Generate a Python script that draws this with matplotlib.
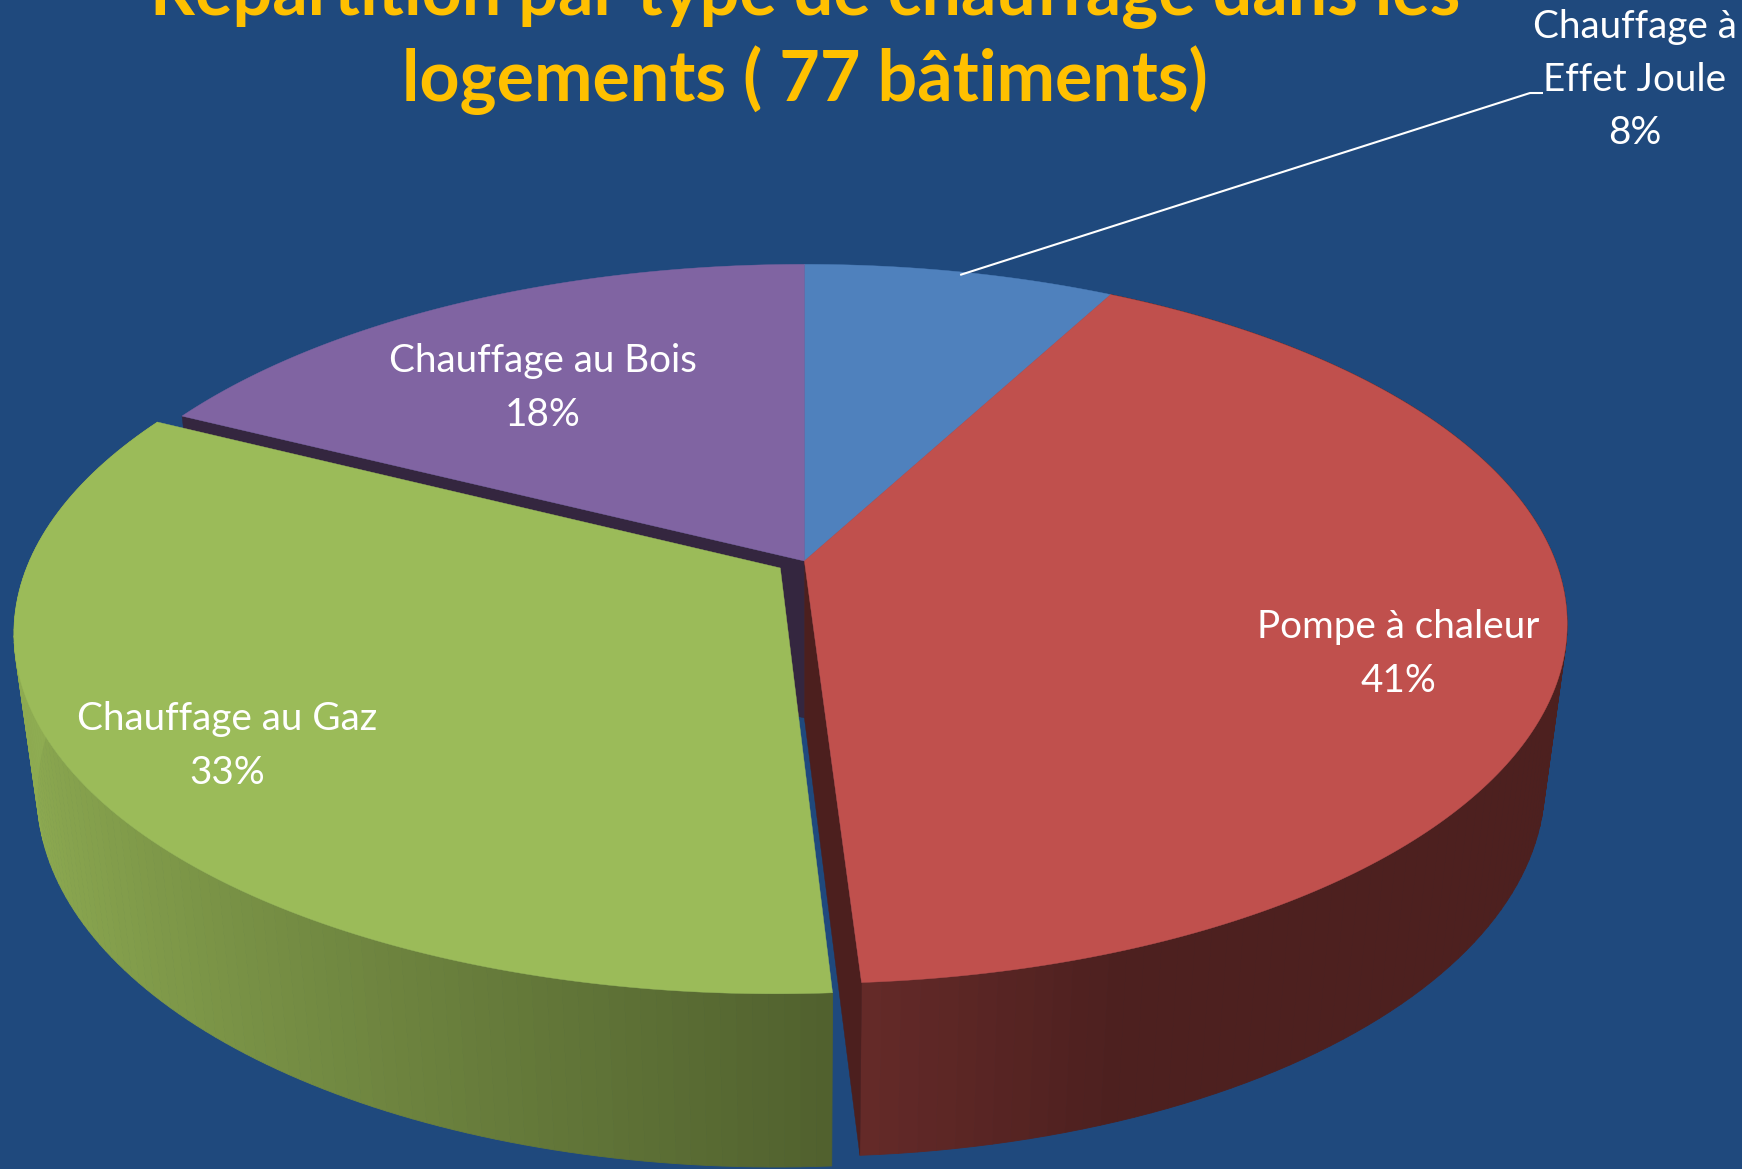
import numpy as np
import matplotlib
matplotlib.use("Agg")
import matplotlib.pyplot as plt
from matplotlib.patches import Polygon

# --- data ---
categories = ["Chauffage à\nEffet Joule", "Pompe à chaleur", "Chauffage au Gaz", "Chauffage au Bois"]
values = [7.8, 41.2, 33.4, 17.6]   # slice sizes; labels show them rounded
title_lines = "Répartition par type de chauffage dans les\nlogements ( 77 bâtiments)"

# --- style / layout ---
BG = "#1F497D"
colors = ["#4F81BD", "#C0504D", "#9BBB59", "#8064A2"]
offsets = [(0, 0), (0, 0), (-0.032, -0.02), (0, 0)]
label_pos = [(1635, 80), (1398, 654), (227, 746), (543, 388)]
CX = 804.4
PERSP = 0.175
TOP = dict(R=751.0, y0=561.0, a=-250.4)
BOT = dict(R=729.0, y0=718.0, a=-236.0)

plt.rcParams["font.family"] = ["Lato", "DejaVu Sans"]
fig = plt.figure(figsize=(17.42, 11.69), dpi=100, facecolor=BG)
ax = fig.add_axes([0, 0, 1, 1])
ax.set_xlim(0, 1742)
ax.set_ylim(1169, 0)
ax.axis("off")


def project(u, v, lvl):
    d = 1 + PERSP * v
    return CX + lvl["R"] * u / d, (lvl["y0"] + lvl["a"] * v) / d


def arc(t0, t1, off, lvl, n=120):
    t = np.linspace(t0, t1, n)
    return project(np.sin(t) + off[0], np.cos(t) + off[1], lvl)


def shade(base, f):
    rgb = np.array(matplotlib.colors.to_rgb(base))
    return tuple(np.clip(rgb * f, 0, 1))


fr = np.cumsum([0] + values) / sum(values) * 2 * np.pi
wedges = [(fr[i], fr[i + 1], off) for i, off in enumerate(offsets)]


def side(i, factor):
    t0, t1, off = wedges[i]
    tx, ty = arc(t0, t1, off, TOP)
    bx, by = arc(t0, t1, off, BOT)
    grid = np.linspace(t0, t1, 120)
    mids = (grid[:-1] + grid[1:]) / 2
    for k in range(len(mids)):
        col = shade(colors[i], factor(np.sin(mids[k])))
        ax.add_patch(Polygon([(tx[k], ty[k]), (tx[k + 1], ty[k + 1]), (bx[k + 1], by[k + 1]), (bx[k], by[k])],
                             closed=True, fc=col, ec=col, lw=0.6))


def cut(i, t, col):
    _, _, off = wedges[i]
    u, v = np.sin(t) + off[0], np.cos(t) + off[1]
    pts = [project(off[0], off[1], TOP), project(u, v, TOP), project(u, v, BOT), project(off[0], off[1], BOT)]
    ax.add_patch(Polygon(pts, closed=True, fc=col, ec=col, lw=0.3))


def top(i):
    t0, t1, off = wedges[i]
    x, y = arc(t0, t1, off, TOP, 200)
    ax.add_patch(Polygon(np.vstack([project(off[0], off[1], TOP), np.column_stack([x, y])]),
                         closed=True, fc=colors[i], ec=colors[i], lw=0.3))


# Walls, back to front, then the top faces
side(1, lambda u: 0.40 + 0.13 * np.clip((0.35 - u) / 0.3, 0, 1))
cut(3, fr[3], "#34263F")
cut(1, fr[2], "#4C1F1E")
side(2, lambda u: 0.54 + 0.38 * (-u))
top(0); top(3); top(1); top(2)

# Labels
for cat, val, (x, y) in zip(categories, values, label_pos):
    ax.text(x, y, f"{cat}\n{round(val)}%", color="white", fontsize=27.8, ha="center", va="center",
            linespacing=1.6, multialignment="center")

# Leader line from the small slice to its label
mid0 = (fr[0] + fr[1]) / 2
lx, ly = project(np.sin(mid0), np.cos(mid0), TOP)
ax.plot([lx, 1530, 1543], [ly + 3, 93, 93], color="white", lw=1.5, solid_capstyle="butt")

# Title (runs off the top of the picture, as in the original)
ax.text(805, 101, title_lines, color="#FFC000", fontsize=50.4, fontweight="bold",
        ha="center", va="baseline", linespacing=1.3, clip_on=False)

fig.savefig("out.png", dpi=100, facecolor=BG)
